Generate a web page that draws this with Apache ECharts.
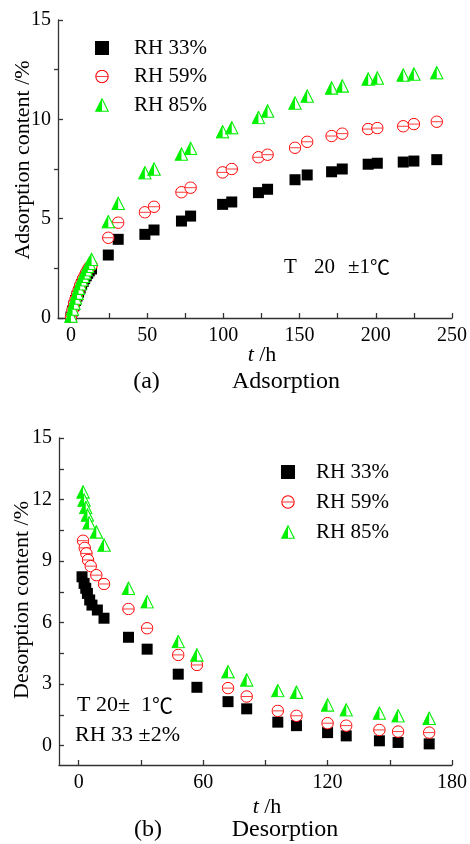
<!DOCTYPE html>
<html>
<head>
<meta charset="utf-8">
<script src="https://cdn.jsdelivr.net/npm/echarts@6/dist/echarts.min.js"></script>
<style>
  html, body { margin: 0; padding: 0; background: #fff; }
  #chart { width: 470px; height: 844px; }
</style>
</head>
<body>
<div id="chart"></div>
<script>
// ---------- (a) Adsorption: time (h) and moisture content (%) ----------
const adsTime = [0, 1, 2, 3, 4, 5, 6, 7, 8, 9, 10, 11, 12, 13.5,
  24.5, 31, 48.5, 54.5, 72.5, 78.5, 99.5, 105.5, 123, 129, 147, 155, 171, 178, 195, 201, 218, 225, 240];
const adsRH33 = [0.05, 0.35, 0.62, 0.88, 1.1, 1.3, 1.5, 1.68, 1.84, 1.98, 2.12, 2.25, 2.37, 2.47,
  3.17, 3.96, 4.21, 4.43, 4.88, 5.13, 5.72, 5.84, 6.31, 6.48, 6.96, 7.20, 7.36, 7.50, 7.74, 7.79, 7.85, 7.90, 7.97];
const adsRH59 = [0.08, 0.4, 0.7, 0.95, 1.18, 1.4, 1.62, 1.8, 1.98, 2.13, 2.28, 2.42, 2.55, 2.65,
  4.04, 4.80, 5.32, 5.60, 6.33, 6.56, 7.33, 7.50, 8.09, 8.22, 8.57, 8.87, 9.16, 9.28, 9.51, 9.56, 9.65, 9.76, 9.88];
const adsRH85 = [0.1, 0.45, 0.75, 1.0, 1.25, 1.5, 1.72, 1.92, 2.1, 2.27, 2.43, 2.6, 2.75, 2.95,
  4.85, 5.77, 7.31, 7.50, 8.25, 8.54, 9.38, 9.58, 10.09, 10.42, 10.82, 11.17, 11.58, 11.68, 12.03, 12.08, 12.23, 12.28, 12.35];

// ---------- (b) Desorption ----------
const desTime33 = [1.6, 2.6, 3.4, 4.2, 5.3, 6.4, 9, 12.2, 24, 33, 48, 57, 72, 81, 96, 105, 120, 129, 145, 154, 169];
const desRH33 = [8.23, 7.91, 7.67, 7.42, 7.10, 6.85, 6.61, 6.21, 5.28, 4.70, 3.48, 2.84, 2.14, 1.79, 1.14, 0.97, 0.63, 0.47, 0.23, 0.15, 0.08];
const desTime59 = [2.1, 2.9, 3.7, 4.5, 5.8, 8.5, 12.2, 24, 33, 48, 57, 72, 81, 96, 105, 120, 129, 145, 154, 169];
const desRH59 = [9.99, 9.64, 9.37, 9.05, 8.75, 8.31, 7.88, 6.66, 5.72, 4.42, 3.93, 2.80, 2.39, 1.69, 1.45, 1.09, 0.97, 0.76, 0.68, 0.63];
const desTime85 = [2.1, 2.6, 3.4, 4.2, 5.0, 8.5, 12.2, 24, 33, 48, 57, 72, 81, 96, 105, 120, 129, 145, 154, 169];
const desRH85 = [12.37, 11.97, 11.61, 11.24, 10.86, 10.42, 9.78, 7.67, 7.01, 5.07, 4.42, 3.60, 3.20, 2.68, 2.60, 1.98, 1.74, 1.58, 1.45, 1.33];

// ---------- tick labels ----------
const adsXLabels = [0, 50, 100, 150, 200, 250];
const adsXTicks = [0, 25, 50, 75, 100, 125, 150, 175, 200, 225, 250];
const adsYLabels = [0, 5, 10, 15];
const adsYMinor = [2.5, 7.5, 12.5];
const desXLabels = [0, 60, 120, 180];
const desXTicks = [0, 30, 60, 90, 120, 150, 180];
const desYLabels = [0, 3, 6, 9, 12, 15];
const desYTicks = [0, 1.5, 3, 4.5, 6, 7.5, 9, 10.5, 12, 13.5, 15];

const seriesNames = ['RH 33%', 'RH 59%', 'RH 85%'];

const FAMILY = 'Liberation Serif';
const FONT_STACK = "'Liberation Serif', 'DejaVu Serif', serif";
const CJK = 'Noto Sans CJK SC';

function svgSymbol(svg) {
  return 'image://data:image/svg+xml;charset=utf-8,' + encodeURIComponent(svg);
}
// hollow red circle with a horizontal bar
const circleBar = svgSymbol(
  "<svg xmlns='http://www.w3.org/2000/svg' width='26' height='26' viewBox='0 0 26 26'>" +
  "<circle cx='13' cy='13' r='11.5' fill='white' stroke='#ff0000' stroke-width='2'/>" +
  "<line x1='2' y1='13' x2='24' y2='13' stroke='#ff3b3b' stroke-width='2'/></svg>");
// half-filled green triangle
const halfTri = svgSymbol(
  "<svg xmlns='http://www.w3.org/2000/svg' width='26' height='26' viewBox='0 0 26 26'>" +
  "<polygon points='13,1.5 24.5,24.5 1.5,24.5' fill='white' stroke='#00f000' stroke-width='2'/>" +
  "<polygon points='13,1.5 13,24.5 1.5,24.5' fill='#00f000'/></svg>");

function pairs(xs, ys) { return xs.map((x, i) => [x, ys[i]]); }

const axisLineStyle = { color: '#333', width: 1.3 };

function xAxisCfg(gridIndex, min, max, labels, ticks) {
  return {
    type: 'value', gridIndex, min, max,
    axisLine: { show: true, onZero: false, lineStyle: axisLineStyle },
    axisTick: { show: true, inside: true, length: 5, customValues: ticks, lineStyle: axisLineStyle },
    axisLabel: { show: true, customValues: labels, color: '#000', fontFamily: FAMILY, fontSize: 20, margin: 8 },
    splitLine: { show: false }
  };
}
function yAxisCfg(gridIndex, min, max, labels, ticks) {
  return {
    type: 'value', gridIndex, min, max, position: 'left',
    axisLine: { show: true, onZero: false, lineStyle: axisLineStyle },
    axisTick: { show: true, inside: true, length: 5, customValues: ticks, lineStyle: axisLineStyle },
    axisLabel: { show: true, customValues: labels, color: '#000', fontFamily: FAMILY, fontSize: 20, margin: 7 },
    splitLine: { show: false }
  };
}

function scatter(name, data, xi, yi) {
  const idx = seriesNames.indexOf(name);
  const base = { name, type: 'scatter', xAxisIndex: xi, yAxisIndex: yi, data, silent: true, animation: false };
  if (idx === 0) return Object.assign(base, { symbol: 'rect', symbolSize: 11, itemStyle: { color: '#000', opacity: 1 } });
  if (idx === 1) return Object.assign(base, { symbol: circleBar, symbolSize: 13, itemStyle: { color: '#ff0000', opacity: 1 } });
  return Object.assign(base, { symbol: halfTri, symbolSize: 14, itemStyle: { color: '#00f000', opacity: 1 } });
}

const legendData = [
  { name: 'RH 33%', icon: 'rect', itemStyle: { opacity: 1 } },
  { name: 'RH 59%', icon: circleBar },
  { name: 'RH 85%', icon: halfTri }
];

function legendCfg(left, top, gap, pad) {
  return {
    orient: 'vertical', left, top, itemGap: gap, itemWidth: 14, itemHeight: 14,
    selectedMode: false, data: legendData,
    textStyle: { fontFamily: FAMILY, fontSize: 21, lineHeight: 21, color: '#000', padding: [0, 0, 0, pad] }
  };
}

function txt(x, y, text, size, align, rotation) {
  return {
    type: 'text', x, y, rotation: rotation || 0, silent: true,
    style: { text, font: size + 'px ' + FONT_STACK, fill: '#000', align: align || 'center', verticalAlign: 'middle' }
  };
}
// text whose degree-Celsius sign is set in a CJK face
function richTxt(x, y, text, size) {
  return {
    type: 'text', x, y, silent: true,
    style: {
      text, fill: '#000', align: 'left', verticalAlign: 'middle',
      rich: {
        a: { fontFamily: FAMILY, fontSize: size, fill: '#000' },
        c: { fontFamily: CJK, fontSize: size - 1, fill: '#000' }
      }
    }
  };
}
function timeTitle(x, y) {
  return {
    type: 'text', x, y, silent: true,
    style: {
      text: '{i|t}{n| /h}', fill: '#000', align: 'center', verticalAlign: 'middle',
      rich: {
        i: { fontStyle: 'italic', fontFamily: FAMILY, fontSize: 22, fill: '#000' },
        n: { fontFamily: FAMILY, fontSize: 22, fill: '#000' }
      }
    }
  };
}

const chart = echarts.init(document.getElementById('chart'), null, { renderer: 'canvas' });

chart.setOption({
  animation: false,
  backgroundColor: '#fff',
  grid: [
    { left: 58, top: 20, width: 394, height: 298 },
    { left: 59, top: 438, width: 394, height: 327 }
  ],
  xAxis: [
    xAxisCfg(0, -8.5, 250, adsXLabels, adsXTicks),
    xAxisCfg(1, -9.5, 180, desXLabels, desXTicks)
  ],
  yAxis: [
    yAxisCfg(0, 0, 15, adsYLabels, adsYLabels),
    yAxisCfg(1, -0.95, 15, desYLabels, desYTicks),
    {
      // minor ticks of the adsorption y-axis, pointing outward
      type: 'value', gridIndex: 0, min: 0, max: 15, position: 'left',
      axisLine: { show: false, onZero: false },
      axisTick: { show: true, inside: false, length: 4, customValues: adsYMinor, lineStyle: axisLineStyle },
      axisLabel: { show: false },
      splitLine: { show: false }
    }
  ],
  legend: [
    legendCfg(90, 32.5, 7.5, 20),
    legendCfg(276, 456.5, 9, 16)
  ],
  series: [
    scatter('RH 33%', pairs(adsTime, adsRH33), 0, 0),
    scatter('RH 59%', pairs(adsTime, adsRH59), 0, 0),
    scatter('RH 85%', pairs(adsTime, adsRH85), 0, 0),
    scatter('RH 33%', pairs(desTime33, desRH33), 1, 1),
    scatter('RH 59%', pairs(desTime59, desRH59), 1, 1),
    scatter('RH 85%', pairs(desTime85, desRH85), 1, 1)
  ],
  graphic: [
    txt(23, 160, 'Adsorption content /%', 22, 'center', Math.PI / 2),
    txt(22, 600, 'Desorption content /%', 22, 'center', Math.PI / 2),
    timeTitle(262, 355),
    timeTitle(267, 807),
    txt(146.5, 381.5, '(a)', 24),
    txt(286, 381.5, 'Adsorption', 24),
    txt(148, 830, '(b)', 24),
    txt(285, 830, 'Desorption', 24),
    txt(284, 267, 'T', 21, 'left'),
    txt(314, 267, '20', 21, 'left'),
    richTxt(348, 267, '{a|\u00b11}{c|\u2103}', 21),
    richTxt(77, 705, '{a|T 20\u00b1  1}{c|\u2103}', 22),
    txt(75, 735, 'RH 33 \u00b12%', 22, 'left')
  ]
});
</script>
</body>
</html>
